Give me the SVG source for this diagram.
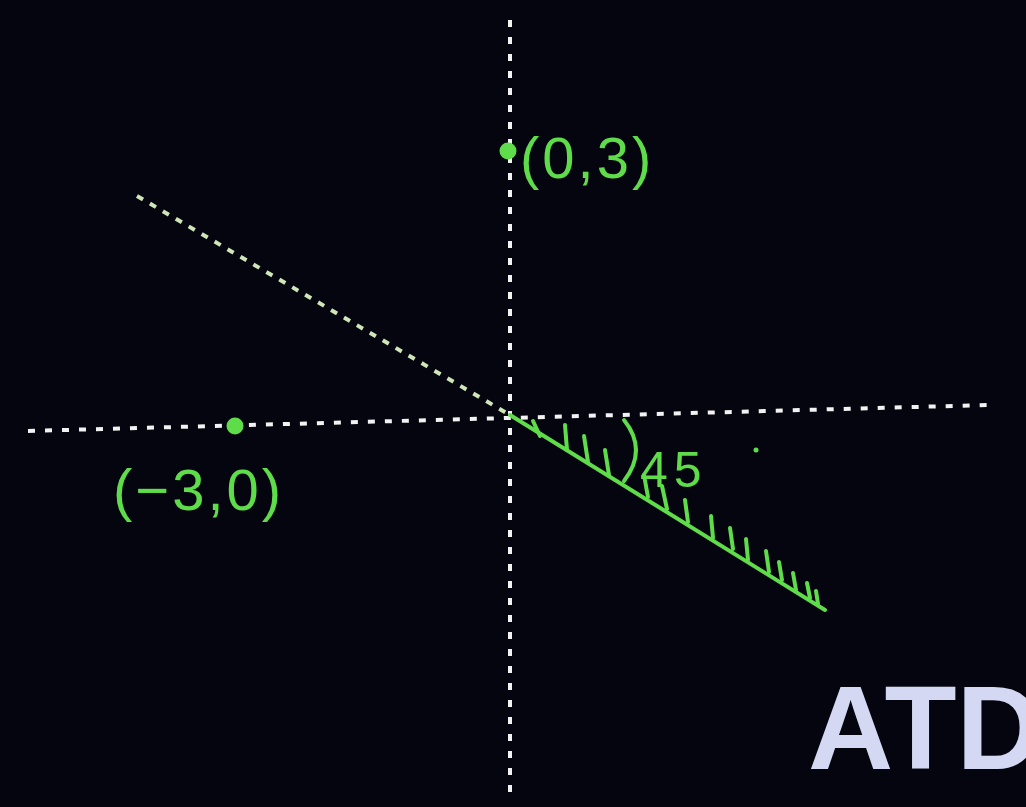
<svg xmlns="http://www.w3.org/2000/svg" width="1026" height="807" viewBox="0 0 1026 807">
<style>
.axis{stroke:#f2f2f2;stroke-width:4;stroke-dasharray:7 10;fill:none}
.diag{stroke:#cfe6b8;stroke-width:4;stroke-dasharray:7 8;fill:none}
.g{stroke:#5fdc4a;stroke-width:4;fill:none;stroke-linecap:round}
.gt{fill:#5fdc4a;font-family:"Liberation Sans",sans-serif}
.dot{fill:#5fdc4a}
</style>
<rect width="1026" height="807" fill="#05050f"/>
<g id="axes">
<line class="axis" x1="510" y1="20" x2="510" y2="795"/>
<line class="axis" x1="28" y1="431" x2="988" y2="405"/>
</g>
<g id="connectors">
<line class="diag" x1="137" y1="196" x2="510" y2="415"/>
<line class="g" x1="510" y1="415" x2="825" y2="610"/>
<g class="g" stroke-width="3.5">
<path d="M533 421 L540 436"/>
<path d="M565 425 L567 450"/>
<path d="M584 436 L588 462"/>
<path d="M605 450 L609 475"/>
<path d="M644 475 L648 497"/>
<path d="M662 486 L667 509"/>
<path d="M685 500 L688 522"/>
<path d="M711 516 L713 538"/>
<path d="M730 528 L733 549"/>
<path d="M746 539 L748 560"/>
<path d="M766 551 L769 572"/>
<path d="M779 562 L782 580"/>
<path d="M793 573 L796 590"/>
<path d="M807 583 L810 598"/>
<path d="M816 591 L818 604"/>
</g>
<path class="g" d="M624 420 Q648 450 624 481"/>
</g>
<g id="p03">
<circle class="dot" cx="508" cy="151" r="8.5"/>
<text class="gt" x="520" y="178" font-size="58" letter-spacing="3">(0,3)</text>
</g>
<g id="pm30">
<circle class="dot" cx="235" cy="426" r="8.5"/>
<text class="gt" x="113" y="510" font-size="58" letter-spacing="3">(−3,0)</text>
</g>
<g id="angle">
<text class="gt" x="640" y="487" font-size="50" letter-spacing="6">45</text>
<circle class="dot" cx="756" cy="450" r="2.5"/>
</g>
<text x="808" y="769" font-family="Liberation Sans,sans-serif" font-weight="bold" font-size="118" fill="#d4d8f2">ATD</text>
</svg>
